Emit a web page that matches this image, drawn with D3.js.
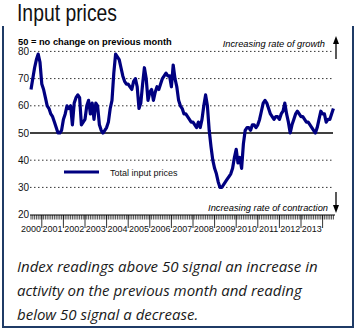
<!DOCTYPE html>
<html>
<head>
<meta charset="utf-8">
<script src="https://cdn.jsdelivr.net/npm/d3@7"></script>
<style>
  body { margin: 0; background: #fff; }
  svg { display: block; }
</style>
</head>
<body>
<script>
// monthly index readings, Jan 2000 .. Jan 2014
var inputPrices = [
  66, 70, 74, 77, 79, 76, 68, 66, 63, 60, 59, 57,
  56, 54, 52, 50, 50, 51, 55, 57, 60, 59, 60, 53,
  61, 63, 64, 63, 53, 54, 55, 60, 62, 57, 61, 55,
  61, 60, 53, 51, 50, 51, 52, 54, 59, 62, 72, 79,
  78, 77, 74, 71, 69, 68, 68, 67, 66, 69, 70, 67,
  59, 61, 68, 74, 70, 62, 65, 66, 62, 65, 67, 66,
  68, 70, 71, 72, 71, 71, 67, 75, 70, 67, 62, 60,
  59, 57, 57, 56, 55, 54, 54, 53, 52, 54, 52, 55,
  60, 64, 60, 51, 45, 40, 37, 35, 32, 30, 30, 31,
  32, 33, 34, 35, 37, 41, 44, 39, 41, 37, 46, 51,
  52, 52, 51, 53, 53, 52, 53, 55, 58, 61, 62, 61,
  59, 57, 56, 55, 56, 56, 55, 57, 58, 61, 57, 54,
  50, 53, 55, 57, 58, 57, 56, 56, 55, 54, 54, 53,
  52, 51, 50, 52, 55, 58, 57, 57, 54, 55, 55, 57,
  59
];
var years = ["2000","2001","2002","2003","2004","2005","2006","2007",
             "2008","2009","2010","2011","2012","2013"];
var yTicks = [20, 30, 40, 50, 60, 70, 80];
var seriesName = "Total input prices";
var noteLines = [
  "Index readings above 50 signal an increase in",
  "activity on the previous month and reading",
  "below 50 signal a decrease."
];

var W = 363, H = 335;
var navy = "#000080", frame = "#1f3b66";

var svg = d3.select("body").append("svg")
  .attr("width", W).attr("height", H);

var x = d3.scaleLinear().domain([0, 169]).range([31, 335.2]);
var y = d3.scaleLinear().domain([20, 80]).range([214.6, 51.4]);

// frame (open at top)
svg.append("path")
  .attr("d", "M3,26 V327 H353 V26")
  .attr("fill", "none").attr("stroke", frame).attr("stroke-width", 2);

// title, squeezed like a narrow face
svg.append("text").attr("x", 17).attr("y", 20.5)
  .attr("font-family", "'Liberation Sans Narrow','Arial Narrow','Liberation Sans',sans-serif")
  .attr("font-size", 24).attr("fill", "#111")
  .attr("textLength", 100).attr("lengthAdjust", "spacingAndGlyphs")
  .text("Input prices");

svg.append("text").attr("x", 18).attr("y", 45)
  .attr("font-family", "'Liberation Sans',Arial,sans-serif")
  .attr("font-weight", "bold").attr("font-size", 9.3)
  .text("50 = no change on previous month");

// gridlines
svg.append("g").selectAll("line")
  .data(yTicks.filter(function(d){ return d != 20 && d != 50; }))
  .join("line")
    .attr("x1", 30).attr("x2", 333)
    .attr("y1", function(d){ return y(d); }).attr("y2", function(d){ return y(d); })
    .attr("stroke", "#333").attr("stroke-width", 1)
    .attr("stroke-dasharray", "1.5,2.5");

svg.append("line")
  .attr("x1", 30).attr("x2", 333).attr("y1", y(50)).attr("y2", y(50))
  .attr("stroke", "#000").attr("stroke-width", 1.5);

// y labels
svg.append("g").selectAll("text").data(yTicks).join("text")
  .attr("x", 29).attr("y", function(d){ return y(d) + 3.5; })
  .attr("text-anchor", "end")
  .attr("font-family", "'Liberation Sans',Arial,sans-serif")
  .attr("font-size", 10).attr("fill", "#111")
  .text(function(d){ return d; });

// x axis: month ruler, long ticks between year labels
var months = d3.range(0, 169);
svg.append("line").attr("x1", 30).attr("x2", 335).attr("y1", 215).attr("y2", 215)
  .attr("stroke", "#000").attr("stroke-width", 1);
svg.append("g").selectAll("line").data(months).join("line")
  .attr("x1", function(d){ return x(d); }).attr("x2", function(d){ return x(d); })
  .attr("y1", 215).attr("y2", 219.5)
  .attr("stroke", "#000").attr("stroke-width", 0.7);
svg.append("g").selectAll("line").data(years).join("line")
  .attr("x1", function(d, i){ return x(i * 12 + 6); })
  .attr("x2", function(d, i){ return x(i * 12 + 6); })
  .attr("y1", 215).attr("y2", 228)
  .attr("stroke", "#000").attr("stroke-width", 0.8);
svg.append("g").selectAll("text").data(years).join("text")
  .attr("x", function(d, i){ return x(i * 12); }).attr("y", 231.5)
  .attr("text-anchor", "middle")
  .attr("font-family", "'Liberation Sans',Arial,sans-serif")
  .attr("font-size", 9).attr("fill", "#111")
  .text(function(d){ return d; });

// annotations + arrows
svg.append("text").attr("x", 325).attr("y", 47).attr("text-anchor", "end")
  .attr("font-family", "'Liberation Sans',Arial,sans-serif")
  .attr("font-style", "italic").attr("font-size", 9.3)
  .text("Increasing rate of growth");
svg.append("text").attr("x", 328).attr("y", 211).attr("text-anchor", "end")
  .attr("font-family", "'Liberation Sans',Arial,sans-serif")
  .attr("font-style", "italic").attr("font-size", 9.3)
  .text("Increasing rate of contraction");

svg.append("line").attr("x1", 336).attr("x2", 336).attr("y1", 42).attr("y2", 59)
  .attr("stroke", "#000").attr("stroke-width", 1.3);
svg.append("path").attr("d", "M336,36 L333,44 L339,44 Z").attr("fill", "#000");
svg.append("line").attr("x1", 336).attr("x2", 336).attr("y1", 192).attr("y2", 206)
  .attr("stroke", "#000").attr("stroke-width", 1.3);
svg.append("path").attr("d", "M336,213 L333,205 L339,205 Z").attr("fill", "#000");

// the series
var line = d3.line()
  .x(function(d, i){ return x(i); })
  .y(function(d){ return y(d); });
svg.append("path").datum(inputPrices)
  .attr("d", line)
  .attr("fill", "none").attr("stroke", navy)
  .attr("stroke-width", 3.2).attr("stroke-linejoin", "round");

// legend
svg.append("line").attr("x1", 64).attr("x2", 99).attr("y1", 172).attr("y2", 172)
  .attr("stroke", navy).attr("stroke-width", 3);
svg.append("text").attr("x", 110).attr("y", 175.5)
  .attr("font-family", "'Liberation Sans',Arial,sans-serif")
  .attr("font-size", 9).attr("fill", "#111")
  .text(seriesName);

// footnote
svg.append("g").selectAll("text").data(noteLines).join("text")
  .attr("x", 17).attr("y", function(d, i){ return 272 + i * 24; })
  .attr("font-family", "'Open Sans','DejaVu Sans',sans-serif")
  .attr("font-style", "italic").attr("font-size", 15).attr("fill", "#1a1a1a")
  .text(function(d){ return d; });
</script>
</body>
</html>
